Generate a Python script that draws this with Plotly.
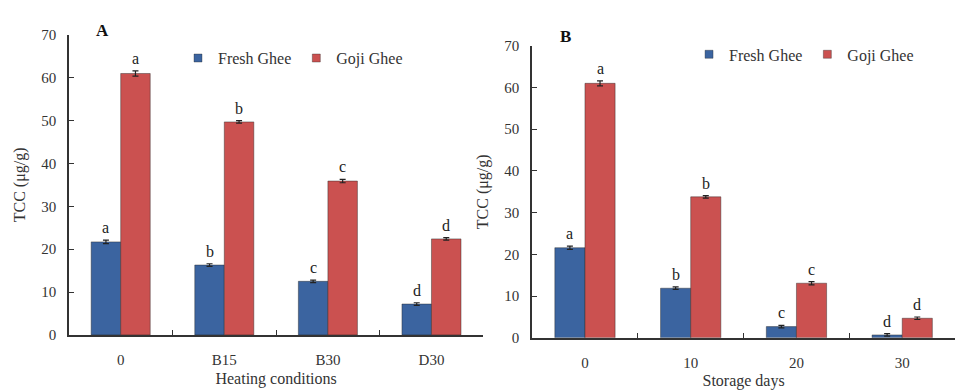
import plotly.graph_objects as go

# Panel A: heating conditions
heat_cats = ["0", "B15", "B30", "D30"]
heat_fresh = [21.7, 16.3, 12.5, 7.2]
heat_fresh_err = [0.4, 0.3, 0.3, 0.3]
heat_goji = [61.0, 49.7, 35.9, 22.4]
heat_goji_err = [0.6, 0.3, 0.4, 0.3]
heat_fresh_letters = ["a", "b", "c", "d"]
heat_goji_letters = ["a", "b", "c", "d"]

# Panel B: storage days
store_cats = ["0", "10", "20", "30"]
store_fresh = [21.6, 11.9, 2.7, 0.7]
store_fresh_err = [0.4, 0.3, 0.3, 0.3]
store_goji = [61.0, 33.8, 13.1, 4.7]
store_goji_err = [0.6, 0.3, 0.4, 0.3]
store_fresh_letters = ["a", "b", "c", "d"]
store_goji_letters = ["a", "b", "c", "d"]

BLUE = "#3B64A0"
RED = "#CB5150"
FONT = "Liberation Serif"
AXIS_COLOR = "#333333"
BARGAP = 0.43

fig = go.Figure()

def add_panel(cats, fresh, fresh_err, goji, goji_err, xa, ya, legend):
    for name, vals, errs, color in [("Fresh Ghee", fresh, fresh_err, BLUE),
                                     ("Goji Ghee", goji, goji_err, RED)]:
        fig.add_trace(go.Bar(
            x=cats, y=vals, name=name, xaxis=xa, yaxis=ya, showlegend=False,
            marker=dict(color=color, line=dict(color="rgba(40,40,40,0.55)", width=0.8)),
            error_y=dict(type="data", array=errs, visible=True, color="#222222",
                         thickness=1.2, width=3),
        ))
        # small square swatch for the legend
        fig.add_trace(go.Scatter(
            x=[None], y=[None], mode="markers", name=name, xaxis=xa, yaxis=ya,
            legend=legend, showlegend=True,
            marker=dict(symbol="square", size=8, color=color,
                        line=dict(color="rgba(40,40,40,0.6)", width=0.6)),
        ))

add_panel(heat_cats, heat_fresh, heat_fresh_err, heat_goji, heat_goji_err, "x", "y", "legend")
add_panel(store_cats, store_fresh, store_fresh_err, store_goji, store_goji_err, "x2", "y2", "legend2")

# significance letters above each bar
half = (1 - BARGAP) / 4
annotations = []
def add_letters(vals, errs, letters, offset, xref, yref):
    for i, (v, e, t) in enumerate(zip(vals, errs, letters)):
        annotations.append(dict(
            x=i + offset, y=v + e, xref=xref, yref=yref, text=t, showarrow=False,
            yanchor="bottom", yshift=2, font=dict(family=FONT, size=16, color="#222222")))

add_letters(heat_fresh, heat_fresh_err, heat_fresh_letters, -half, "x", "y")
add_letters(heat_goji, heat_goji_err, heat_goji_letters, half, "x", "y")
add_letters(store_fresh, store_fresh_err, store_fresh_letters, -half, "x2", "y2")
add_letters(store_goji, store_goji_err, store_goji_letters, half, "x2", "y2")

annotations.append(dict(x=0.107, y=0.94, xref="paper", yref="paper", text="<b>A</b>",
                        showarrow=False, xanchor="center", yanchor="middle",
                        font=dict(family=FONT, size=17, color="#111111")))
annotations.append(dict(x=0.591, y=0.925, xref="paper", yref="paper", text="<b>B</b>",
                        showarrow=False, xanchor="center", yanchor="middle",
                        font=dict(family=FONT, size=17, color="#111111")))

tick_font = dict(family=FONT, size=15, color="#333333")
title_font = dict(family=FONT, size=16, color="#333333")
xcommon = dict(type="category", showline=True, linecolor=AXIS_COLOR, linewidth=1.5,
               ticks="inside", ticklen=5, tickcolor=AXIS_COLOR, tickson="boundaries",
               tickfont=tick_font, ticklabelstandoff=10, showgrid=False, zeroline=False)
ycommon = dict(range=[0, 70], dtick=10, showline=True, linecolor=AXIS_COLOR, linewidth=1.5,
               ticks="inside", ticklen=5, tickcolor=AXIS_COLOR, tickfont=tick_font,
               ticklabelstandoff=8, showgrid=False, zeroline=False)

fig.update_layout(
    width=957, height=390,
    margin=dict(l=0, r=0, t=0, b=0),
    paper_bgcolor="white", plot_bgcolor="white",
    barmode="group", bargap=BARGAP, bargroupgap=0,
    font=dict(family=FONT, color="#333333"),
    annotations=annotations,
    xaxis=dict(domain=[0.072, 0.505], anchor="y",
               title=dict(text="Heating conditions", font=title_font, standoff=6), **xcommon),
    yaxis=dict(domain=[0.126, 0.928], anchor="x",
               title=dict(text="TCC (μg/g)", font=title_font, standoff=12), **ycommon),
    xaxis2=dict(domain=[0.556, 0.998], anchor="y2",
                title=dict(text="Storage days", font=title_font, standoff=6), **xcommon),
    yaxis2=dict(domain=[0.118, 0.899], anchor="x2",
                title=dict(text="TCC (μg/g)", font=title_font, standoff=12), **ycommon),
    legend=dict(orientation="h", x=0.186, y=0.866, xanchor="left", yanchor="middle",
                font=dict(family=FONT, size=16, color="#333333"), itemwidth=30,
                bgcolor="rgba(0,0,0,0)", traceorder="normal"),
    legend2=dict(orientation="h", x=0.72, y=0.876, xanchor="left", yanchor="middle",
                 font=dict(family=FONT, size=16, color="#333333"), itemwidth=30,
                 bgcolor="rgba(0,0,0,0)", traceorder="normal"),
)

fig.write_html("out.html")
